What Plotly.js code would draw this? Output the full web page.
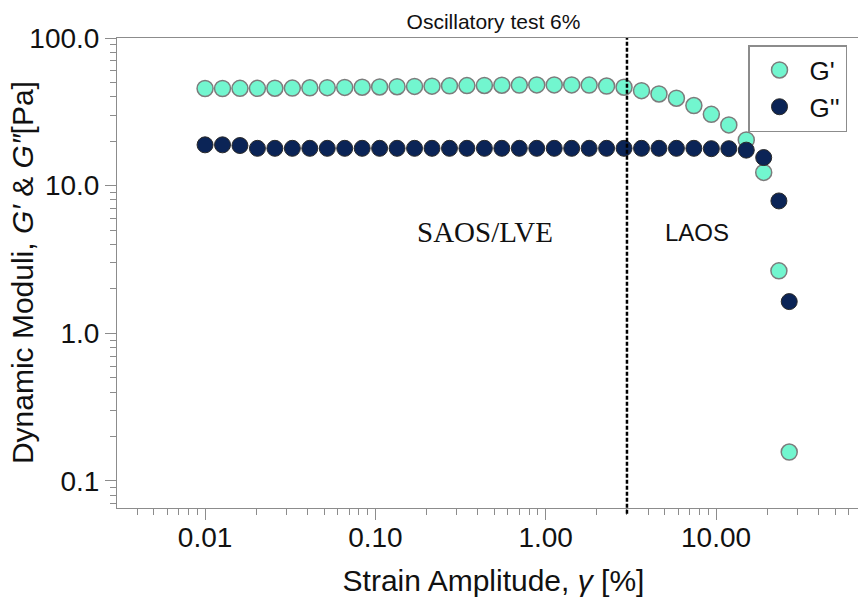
<!DOCTYPE html>
<html><head><meta charset="utf-8">
<script src="https://cdn.plot.ly/plotly-3.0.1.min.js"></script>
<style>html,body{margin:0;padding:0;overflow:hidden;background:#fff;width:858px;height:597px}#chart{width:875px;height:597px}</style>
</head><body><div id="chart"></div>
<script>
// Strain amplitude [%]
const strain = [0.0100, 0.01266, 0.01603, 0.02030, 0.02570, 0.03254, 0.04121, 0.05218, 0.06607, 0.08365,
  0.1059, 0.1341, 0.1698, 0.2150, 0.2723, 0.3447, 0.4365, 0.5527, 0.6998, 0.8861,
  1.122, 1.421, 1.799, 2.278, 2.884, 3.652, 4.624, 5.855, 7.413, 9.386,
  11.89, 15.05, 19.05, 23.4, 26.9];
// Storage modulus G' [Pa]
const gStorage = [45.5, 45.5, 45.6, 45.6, 45.7, 45.8, 46.0, 46.1, 46.3, 46.4,
  46.6, 46.8, 47.0, 47.2, 47.4, 47.6, 47.7, 47.9, 48.0, 48.1,
  48.1, 48.1, 48.0, 47.3, 46.4, 44.0, 41.8, 39.1, 34.9, 30.4,
  25.8, 20.4, 12.3, 2.65, 0.157];
// Loss modulus G'' [Pa]
const gLoss = [18.9, 18.9, 18.7, 17.9, 17.9, 17.9, 17.9, 17.9, 17.9, 17.9,
  17.9, 17.9, 17.9, 17.9, 17.9, 17.9, 17.9, 17.9, 17.9, 17.9,
  17.9, 17.9, 17.9, 17.9, 17.9, 17.9, 17.9, 17.9, 17.9, 17.8,
  17.8, 17.4, 15.5, 7.88, 1.64];
const seriesNames = ["G'", "G''"];
const xTickVals = [0.01, 0.1, 1, 10];
const xTickText = ['0.01', '0.10', '1.00', '10.00'];
const yTickVals = [0.1, 1, 10, 100];
const yTickText = ['0.1', '1.0', '10.0', '100.0'];
const strainLimit = 3;
const regionLabels = ['SAOS/LVE', 'LAOS'];
const chartTitle = 'Oscillatory test 6%';
const xTitle = 'Strain Amplitude, <i>γ</i> [%]';
const yTitle = 'Dynamic Moduli, <i>G′</i> &amp; <i>G″</i>[Pa]';

function minorVals(lo, hi) {
  const v = [];
  for (let e = lo; e <= hi; e++) for (let m = 2; m <= 9; m++) v.push(m * Math.pow(10, e));
  return v;
}

const FONT = 'Liberation Sans, Arial, Helvetica, sans-serif';
const AX = '#8c8c8c';
const X_RANGE = [-2.517, 1.904];

const traces = [
  {x: strain, y: gStorage, name: seriesNames[0], type: 'scatter', mode: 'markers', xaxis: 'x', yaxis: 'y',
   marker: {size: 16, color: '#72f6cf', line: {color: '#7c7c7c', width: 1.5}}},
  // same strain scale (x2 overlays x with identical range); also keeps G'' drawn on top
  {x: strain, y: gLoss, name: seriesNames[1], type: 'scatter', mode: 'markers', xaxis: 'x2', yaxis: 'y',
   marker: {size: 16, color: '#0b2456', line: {color: '#2a2a2a', width: 1}}}
];

const axisCommon = {
  type: 'log', tickmode: 'array', ticks: 'outside', ticklen: 11, tickwidth: 1, tickcolor: AX,
  showline: true, linecolor: AX, linewidth: 1, showgrid: false, zeroline: false, automargin: false,
  tickfont: {family: FONT, size: 28, color: '#111'}
};

const layout = {
  width: 875, height: 597,
  margin: {l: 117, r: 5, t: 38, b: 89},
  paper_bgcolor: '#fff', plot_bgcolor: '#fff',
  font: {family: FONT, color: '#111'},
  title: {text: chartTitle, font: {family: FONT, size: 21, color: '#111'}, x: 0.5, xref: 'paper',
          y: 1 - 22 / 597, yref: 'container', yanchor: 'middle'},
  xaxis: Object.assign({}, axisCommon, {
    range: X_RANGE, tickvals: xTickVals, ticktext: xTickText, mirror: true, showticklabels: false,
    minor: {tickmode: 'array', tickvals: minorVals(-3, 1), ticks: 'outside', ticklen: 6, tickcolor: AX, tickwidth: 1},
    title: {text: xTitle, font: {family: FONT, size: 30, color: '#111'}, standoff: 60}
  }),
  xaxis2: Object.assign({}, axisCommon, {
    range: X_RANGE, tickvals: xTickVals, ticktext: xTickText, overlaying: 'x', anchor: 'y', side: 'bottom',
    showline: false, ticklen: 4, tickcolor: 'rgba(0,0,0,0)'
  }),
  yaxis: Object.assign({}, axisCommon, {
    range: [-1.183, 2], tickvals: yTickVals, ticktext: yTickText,
    minor: {tickmode: 'array', tickvals: minorVals(-2, 1), ticks: 'outside', ticklen: 6, tickcolor: AX, tickwidth: 1}
  }),
  legend: {x: 0.838, y: 0.985, xanchor: 'left', yanchor: 'top', bordercolor: AX, borderwidth: 1.5,
           bgcolor: '#fff', itemwidth: 50, font: {family: FONT, size: 26, color: '#111'}},
  shapes: [{type: 'line', xref: 'x', yref: 'paper', x0: strainLimit, x1: strainLimit, y0: -0.012, y1: 1,
            layer: 'above', line: {color: '#000', width: 2.5, dash: '4px,2px'}}],
  annotations: [
    {text: yTitle, xref: 'paper', yref: 'paper', x: -0.126, y: 0.5, xanchor: 'center', yanchor: 'middle',
     textangle: -90, showarrow: false, font: {family: FONT, size: 30, color: '#111'}},
    {text: regionLabels[0], xref: 'paper', yref: 'paper', x: 0.4887, y: 0.587, xanchor: 'center', yanchor: 'middle',
     showarrow: false, font: {family: 'Liberation Serif, Times New Roman, serif', size: 29, color: '#111'}},
    {text: regionLabels[1], xref: 'paper', yref: 'paper', x: 0.770, y: 0.587, xanchor: 'center', yanchor: 'middle',
     showarrow: false, font: {family: FONT, size: 24, color: '#111'}}
  ],
  showlegend: true
};

Plotly.newPlot('chart', traces, layout, {displayModeBar: false, staticPlot: true});
</script></body></html>
